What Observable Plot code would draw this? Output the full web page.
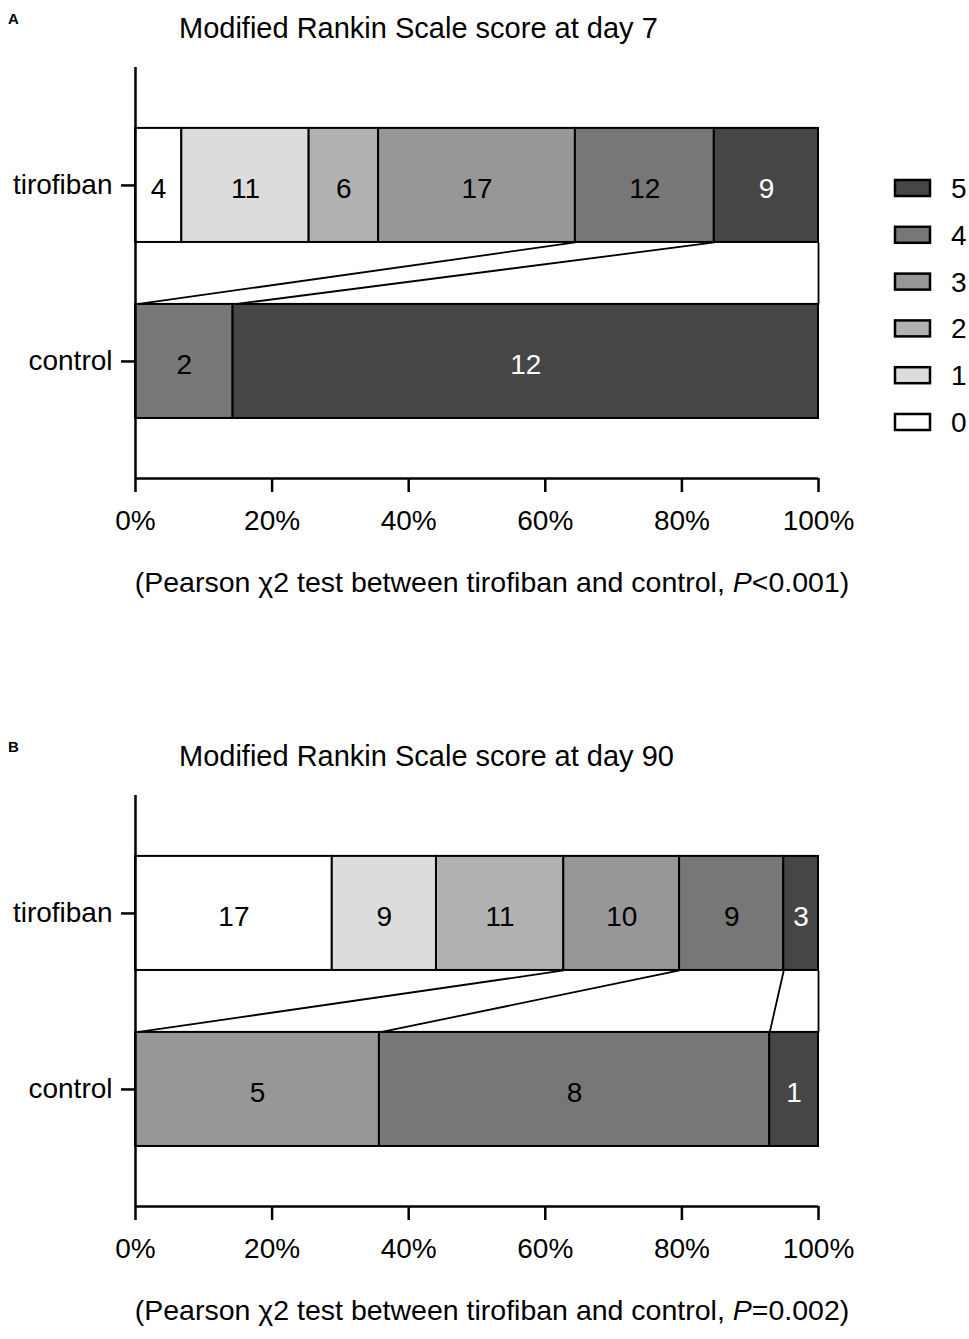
<!DOCTYPE html>
<html><head><meta charset="utf-8">
<script src="https://cdn.jsdelivr.net/npm/d3@7"></script>
<script src="https://cdn.jsdelivr.net/npm/@observablehq/plot@0.6"></script>
<style>
html,body{margin:0;padding:0;background:#fff;overflow:hidden}
#chart svg{display:block;max-width:none}
</style></head><body><div id="chart"></div>
<script>
const grades = [0, 1, 2, 3, 4, 5];
const groups = ["tirofiban", "control"];
const day7Tirofiban = [4, 11, 6, 17, 12, 9];
const day7Control = [0, 0, 0, 0, 2, 12];
const day90Tirofiban = [17, 9, 11, 10, 9, 3];
const day90Control = [0, 0, 0, 5, 8, 1];
const xTicks = [0, 0.2, 0.4, 0.6, 0.8, 1];
const panelLabels = ["A", "B"];
const titles = ["Modified Rankin Scale score at day 7", "Modified Rankin Scale score at day 90"];
const pValues = ["<0.001", "=0.002"];
const greys = ["#ffffff", "#dcdcdc", "#b1b1b1", "#979797", "#777777", "#464646"];

const FONT = "'Liberation Sans', Arial, Helvetica, sans-serif";
const HALF = 0.324;
const groupY = {tirofiban: 1, control: 0};
const Y_TOP = 1.670, Y_BOT = -0.665;

function segments(group, counts) {
  const total = d3.sum(counts);
  let cum = 0;
  const out = [];
  counts.forEach((n, i) => {
    const x1 = cum / total; cum += n; const x2 = cum / total;
    if (n > 0) out.push({group, grade: grades[i], n, x1, x2, y: groupY[group]});
  });
  return out;
}
function connectors(tir, ctl) {
  const tt = d3.sum(tir), ct = d3.sum(ctl);
  const links = [];
  grades.forEach((g, i) => {
    if (ctl[i] > 0) links.push({x1: d3.sum(tir.slice(0, i)) / tt, x2: d3.sum(ctl.slice(0, i)) / ct});
  });
  links.push({x1: 1, x2: 1});
  return links;
}

function panel(k, tir, ctl, height, withLegend) {
  const segs = [...segments(groups[0], tir), ...segments(groups[1], ctl)];
  const links = connectors(tir, ctl);
  const svg = Plot.plot({
    width: 969, height,
    marginLeft: 135, marginRight: 151, marginTop: 67, marginBottom: height - 478,
    style: {fontFamily: FONT, fontSize: "28px", color: "#000", background: "#fff", overflow: "visible"},
    x: {domain: [0, 1]},
    y: {domain: [Y_BOT, Y_TOP]},
    color: {type: "ordinal", domain: grades, range: greys},
    marks: [
      Plot.link(links, {x1: "x1", x2: "x2", y1: () => groupY.tirofiban - HALF, y2: () => groupY.control + HALF, stroke: "#000", strokeWidth: 1.8}),
      Plot.rect(segs, {x1: "x1", x2: "x2", y1: d => d.y - HALF, y2: d => d.y + HALF, fill: "grade", stroke: "#000", strokeWidth: 2}),
      Plot.text(segs.filter(d => d.grade !== 5), {x: d => (d.x1 + d.x2) / 2, y: "y", text: d => String(d.n), fill: "#000", fontSize: 28, dy: 4}),
      Plot.text(segs.filter(d => d.grade === 5), {x: d => (d.x1 + d.x2) / 2, y: "y", text: d => String(d.n), fill: "#fff", fontSize: 28, dy: 4}),
      Plot.ruleX([0], {stroke: "#000", strokeWidth: 2.5}),
      Plot.ruleY([Y_BOT], {stroke: "#000", strokeWidth: 2.5}),
      Plot.axisX({ticks: xTicks, tickFormat: d => `${Math.round(d * 100)}%`, tickSize: 14, tickPadding: 18, strokeWidth: 2.5, label: null, fontSize: 28}),
      Plot.axisY({ticks: [0, 1], tickFormat: d => (d === 1 ? groups[0] : groups[1]), tickSize: 14, tickPadding: 9, strokeWidth: 2.5, label: null, fontSize: 28})
    ]
  });
  const s = d3.select(svg);
  s.append("text").text(panelLabels[k])
    .attr("x", 8).attr("y", 24).attr("text-anchor", "start").attr("font-weight", "bold").attr("font-size", 15)
    .attr("font-family", FONT).attr("fill", "#000");
  s.append("text").text(titles[k])
    .attr("x", 179).attr("y", 38).attr("text-anchor", "start").attr("font-size", 29)
    .attr("font-family", FONT).attr("fill", "#000");
  const cap = s.append("text")
    .attr("x", 492).attr("y", 592).attr("text-anchor", "middle").attr("font-size", 28.5)
    .attr("font-family", FONT).attr("fill", "#000");
  cap.append("tspan").text("(Pearson \u03c72 test between tirofiban and control, ");
  cap.append("tspan").attr("font-style", "italic").text("P");
  cap.append("tspan").text(pValues[k] + ")");
  if (withLegend) {
    const order = grades.slice().reverse();
    const g = s.append("g");
    order.forEach((gr, i) => {
      const cy = 188 + i * 46.8;
      g.append("rect").attr("x", 895).attr("y", cy - 8).attr("width", 35).attr("height", 16)
        .attr("fill", greys[grades.indexOf(gr)]).attr("stroke", "#000").attr("stroke-width", 2.5);
      g.append("text").text(String(gr)).attr("x", 951).attr("y", cy + 10).attr("text-anchor", "start")
        .attr("font-size", 28).attr("font-family", FONT).attr("fill", "#000");
    });
  }
  return svg;
}

const root = document.getElementById("chart");
root.appendChild(panel(0, day7Tirofiban, day7Control, 728, true));
root.appendChild(panel(1, day90Tirofiban, day90Control, 611, false));
</script>
</body></html>
